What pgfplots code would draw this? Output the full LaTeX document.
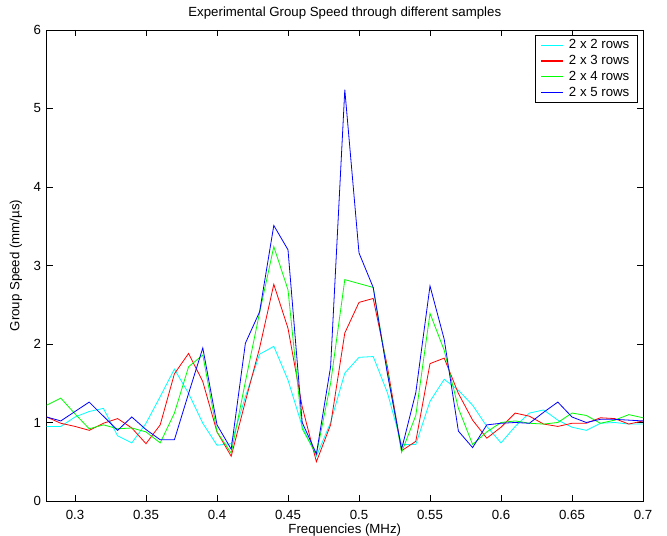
\documentclass[border=0pt]{standalone}
\usepackage{fontspec}
\setmainfont{Liberation Sans}
\usepackage{pgfplots}
\usepackage{pgfplotstable}
\pgfplotsset{compat=1.18}
\usetikzlibrary{calc}
\definecolor{mcyan}{rgb}{0,1,1}
\definecolor{mred}{rgb}{1,0,0}
\definecolor{mgreen}{rgb}{0,1,0}
\definecolor{mblue}{rgb}{0,0,1}

% columns: f, 2x2, 2x3, 2x4, 2x5
\pgfplotstableread{
f    c     r     g     b
0.28 0.95  1.07  1.22  1.07
0.29 0.95  0.99  1.31  1.02
0.30 1.07  0.95  1.11  1.14
0.31 1.14  0.90  0.92  1.26
0.32 1.18  0.99  0.97  1.08
0.33 0.83  1.05  0.92  0.90
0.34 0.74  0.93  0.93  1.07
0.35 0.99  0.73  0.88  0.91
0.36 1.33  0.97  0.74  0.78
0.37 1.68  1.62  1.12  0.78
0.38 1.37  1.88  1.71  1.37
0.39 0.99  1.52  1.86  1.95
0.40 0.71  0.88  0.88  0.97
0.41 0.73  0.57  0.61  0.66
0.42 1.33  1.27  1.52  2.01
0.43 1.87  1.95  2.40  2.41
0.44 1.97  2.76  3.24  3.51
0.45 1.54  2.20  2.69  3.20
0.46 0.95  1.20  0.92  1.00
0.47 0.57  0.50  0.59  0.60
0.48 1.00  0.97  1.50  1.71
0.49 1.63  2.14  2.82  5.24
0.50 1.83  2.53  2.77  3.16
0.51 1.84  2.58  2.72  2.72
0.52 1.38  1.71  1.65  1.62
0.53 0.72  0.64  0.62  0.66
0.54 0.72  0.76  1.09  1.38
0.55 1.27  1.75  2.39  2.74
0.56 1.55  1.82  1.92  2.06
0.57 1.41  1.37  1.18  0.89
0.58 1.22  1.03  0.72  0.68
0.59 0.95  0.80  0.88  0.97
0.60 0.74  0.94  1.00  0.99
0.61 0.95  1.12  1.02  1.00
0.62 1.12  1.08  0.99  0.99
0.63 1.16  0.98  0.98  1.13
0.64 1.03  0.95  1.00  1.26
0.65 0.94  0.99  1.12  1.07
0.66 0.90  0.99  1.09  1.00
0.67 0.99  1.06  0.99  1.04
0.68 1.00  1.05  1.03  1.04
0.69 0.98  0.98  1.10  1.03
0.70 0.98  1.02  1.06  1.02
}\speed

\begin{document}
\fontsize{13.3}{16}\selectfont
\begin{tikzpicture}
\begin{axis}[
  scale only axis,
  width=596.4bp, height=471bp,
  xmin=0.28, xmax=0.7,
  ymin=0, ymax=6,
  xtick={0.3,0.35,0.4,0.45,0.5,0.55,0.6,0.65,0.7},
  xticklabels={0.3,0.35,0.4,0.45,0.5,0.55,0.6,0.65,0.7},
  ytick={0,1,2,3,4,5,6},
  tick align=inside,
  major tick length=6bp,
  axis line style={line width=0.6bp},
  every tick/.style={black, line width=0.6bp},
  /pgf/number format/assume math mode=true,
  tick label style={font=\fontsize{13.3}{16}\selectfont},
  xticklabel style={yshift=-4.5bp},
  yticklabel style={xshift=-1bp},
  title={Experimental Group Speed through different samples},
  title style={at={(axis description cs:0.5,1.0234)}, anchor=center, inner sep=0pt},
  xlabel={Frequencies (MHz)},
  xlabel style={at={(axis description cs:0.5,-0.0625)}, anchor=center, inner sep=0pt},
  ylabel={Group Speed (mm/µs)},
  ylabel style={at={(axis description cs:-0.0513,0.5)}, anchor=center, inner sep=0pt},
  legend style={at={(rel axis cs:0.99,0.9894)}, anchor=north east,
    inner xsep=5.5bp, inner ysep=2.5bp, column sep=4bp, row sep=0.5bp},
  legend cell align=left,
  legend image code/.code={\fill[#1, draw=none] (0bp,-0.7bp) rectangle (22bp,0.7bp);},
  every axis plot/.append style={line width=0.8pt},
]
\addplot[mcyan] table[x=f, y=c] {\speed};
\addplot[mred] table[x=f, y=r] {\speed};
\addplot[mgreen] table[x=f, y=g] {\speed};
\addplot[mblue] table[x=f, y=b] {\speed};
\legend{2 x 2 rows, 2 x 3 rows, 2 x 4 rows, 2 x 5 rows}
\end{axis}
\pgfresetboundingbox
\path[use as bounding box] ($(current axis.south west)+(-46.6bp,-35bp)$) rectangle ($(current axis.north east)+(24bp,30bp)$);
\end{tikzpicture}
\end{document}
